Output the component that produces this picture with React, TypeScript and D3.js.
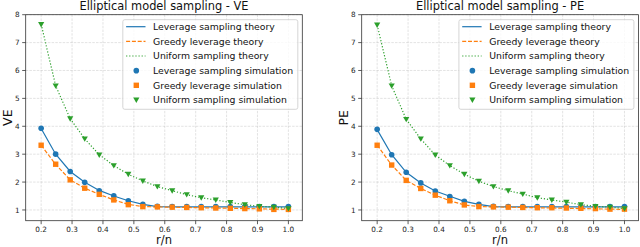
import React from 'react';
import * as d3 from 'd3';

// r/n sample points (18 evenly spaced from 0.2 to 1.0)
const ratios = [0.2, 0.247, 0.294, 0.341, 0.388, 0.435, 0.482, 0.529, 0.576, 0.624, 0.671, 0.718, 0.765, 0.812, 0.859, 0.906, 0.953, 1.0];

// VE panel
const veLevTheory = [3.92, 3.0, 2.38, 1.99, 1.7, 1.5, 1.33, 1.2, 1.12, 1.11, 1.11, 1.11, 1.11, 1.11, 1.11, 1.11, 1.11, 1.11];
const veGreedyTheory = [3.32, 2.63, 2.08, 1.78, 1.56, 1.36, 1.2, 1.12, 1.11, 1.1, 1.09, 1.08, 1.07, 1.06, 1.05, 1.04, 1.03, 1.02];
const veUnifTheory = [7.66, 5.45, 4.27, 3.55, 2.98, 2.59, 2.28, 2.04, 1.84, 1.69, 1.55, 1.44, 1.36, 1.27, 1.19, 1.13, 1.1, 1.05];
const veLevSim = [3.93, 3.0, 2.38, 1.99, 1.69, 1.51, 1.33, 1.2, 1.13, 1.12, 1.12, 1.12, 1.12, 1.12, 1.12, 1.12, 1.12, 1.12];
const veGreedySim = [3.32, 2.64, 2.08, 1.78, 1.56, 1.36, 1.19, 1.12, 1.11, 1.1, 1.09, 1.08, 1.07, 1.06, 1.05, 1.04, 1.02, 1.02];
const veUnifSim = [7.65, 5.45, 4.27, 3.55, 2.97, 2.59, 2.28, 2.04, 1.84, 1.69, 1.55, 1.44, 1.36, 1.27, 1.19, 1.13, 1.1, 1.05];

// PE panel
const peLevTheory = [3.88, 2.98, 2.35, 1.97, 1.68, 1.49, 1.31, 1.2, 1.12, 1.11, 1.11, 1.11, 1.11, 1.11, 1.11, 1.11, 1.11, 1.11];
const peGreedyTheory = [3.32, 2.61, 2.06, 1.77, 1.53, 1.33, 1.18, 1.12, 1.11, 1.1, 1.09, 1.08, 1.07, 1.06, 1.05, 1.04, 1.03, 1.02];
const peUnifTheory = [7.63, 5.45, 4.25, 3.55, 2.97, 2.59, 2.28, 2.03, 1.84, 1.69, 1.57, 1.44, 1.36, 1.28, 1.19, 1.13, 1.1, 1.05];
const peLevSim = [3.89, 2.98, 2.35, 1.97, 1.68, 1.48, 1.31, 1.2, 1.13, 1.12, 1.12, 1.12, 1.12, 1.12, 1.12, 1.12, 1.12, 1.12];
const peGreedySim = [3.32, 2.61, 2.06, 1.77, 1.53, 1.33, 1.18, 1.12, 1.11, 1.1, 1.09, 1.08, 1.08, 1.07, 1.06, 1.05, 1.03, 1.03];
const peUnifSim = [7.63, 5.45, 4.25, 3.55, 2.97, 2.59, 2.28, 2.03, 1.84, 1.69, 1.57, 1.44, 1.36, 1.28, 1.19, 1.13, 1.1, 1.05];

const xTicks = [0.2, 0.3, 0.4, 0.5, 0.6, 0.7, 0.8, 0.9, 1.0];
const yTicks = [1, 2, 3, 4, 5, 6, 7, 8];
const legendLabels = [
  'Leverage sampling theory',
  'Greedy leverage theory',
  'Uniform sampling theory',
  'Leverage sampling simulation',
  'Greedy leverage simulation',
  'Uniform sampling simulation',
];

const BLUE = '#1f77b4';
const ORANGE = '#ff7f0e';
const GREEN = '#2ca02c';
const FONT = 'DejaVu Sans, sans-serif';

const Marker = ({ kind, x, y, color }) => {
  if (kind === 'circle') return <circle cx={x} cy={y} r={2.8} fill={color} />;
  if (kind === 'square') return <rect x={x - 2.7} y={y - 2.7} width={5.4} height={5.4} fill={color} />;
  return <path d={`M${x - 3.1},${y - 2.4}L${x + 3.1},${y - 2.4}L${x},${y + 3}Z`} fill={color} />;
};

const Panel = ({ left, right, title, ylabel, theory, sims }) => {
  const top = 14.7;
  const bottom = 220.7;
  const x = d3.scaleLinear().domain([0.15, 1.045]).range([left, right]);
  const y = d3.scaleLinear().domain([0.615, 8.0]).range([bottom, top]);
  const line = d3.line<number>().x((_, i) => x(ratios[i])).y(d => y(d));

  const styles = [
    { color: BLUE, dash: null, marker: 'circle' },
    { color: ORANGE, dash: '4,1.8', marker: 'square' },
    { color: GREEN, dash: '1.2,1.9', marker: 'triangle' },
  ];

  const lgRight = right - 4.5;
  const lgW = 175;
  const lgLeft = lgRight - lgW;
  const lgTop = 19.7;
  const lgH = 89.6;

  return (
    <g>
      {/* grid */}
      {xTicks.map(t => (
        <line key={'gx' + t} x1={x(t)} x2={x(t)} y1={top} y2={bottom}
          stroke="#b0b0b0" strokeOpacity={0.5} strokeWidth={0.7} strokeDasharray="2.5,1.2" />
      ))}
      {yTicks.map(t => (
        <line key={'gy' + t} x1={left} x2={right} y1={y(t)} y2={y(t)}
          stroke="#b0b0b0" strokeOpacity={0.5} strokeWidth={0.7} strokeDasharray="2.5,1.2" />
      ))}

      {/* theory lines */}
      {theory.map((vals, i) => (
        <path key={'l' + i} d={line(vals)} fill="none" stroke={styles[i].color}
          strokeWidth={1.2} strokeDasharray={styles[i].dash || undefined} />
      ))}

      {/* simulation markers */}
      {sims.map((vals, i) => (
        <g key={'s' + i}>
          {vals.map((v, j) => (
            <Marker key={j} kind={styles[i].marker} x={x(ratios[j])} y={y(v)} color={styles[i].color} />
          ))}
        </g>
      ))}

      {/* frame */}
      <rect x={left} y={top} width={right - left} height={bottom - top} fill="none" stroke="#333" strokeWidth={0.8} />

      {/* ticks */}
      {xTicks.map(t => (
        <g key={'tx' + t}>
          <line x1={x(t)} x2={x(t)} y1={bottom} y2={bottom + 3.5} stroke="#333" strokeWidth={0.8} />
          <text x={x(t)} y={232} textAnchor="middle" fontSize={7.3} fontFamily={FONT} fill="#222">
            {t.toFixed(1)}
          </text>
        </g>
      ))}
      {yTicks.map(t => (
        <g key={'ty' + t}>
          <line x1={left - 3.5} x2={left} y1={y(t)} y2={y(t)} stroke="#333" strokeWidth={0.8} />
          <text x={left - 6} y={y(t)} dy="0.35em" textAnchor="end" fontSize={7.3} fontFamily={FONT} fill="#222">
            {t}
          </text>
        </g>
      ))}

      {/* labels */}
      <text x={(left + right) / 2} y={10} textAnchor="middle" fontSize={11.4} fontFamily={FONT} fill="#111">
        {title}
      </text>
      <text x={(left + right) / 2} y={244.3} textAnchor="middle" fontSize={11.5} fontFamily={FONT} fill="#111">
        r/n
      </text>
      <text transform={`translate(${left - 14},${(top + bottom) / 2}) rotate(-90)`} textAnchor="middle"
        fontSize={12.5} fontFamily={FONT} fill="#111">
        {ylabel}
      </text>

      {/* legend */}
      <rect x={lgLeft} y={lgTop} width={lgW} height={lgH} rx={2} fill="#fff" fillOpacity={0.8}
        stroke="#cccccc" strokeWidth={0.8} />
      {legendLabels.map((lab, i) => {
        const cy = lgTop + 7 + i * 14.65;
        const s = styles[i % 3];
        return (
          <g key={'lg' + i}>
            {i < 3 ? (
              <line x1={lgLeft + 3.3} x2={lgLeft + 22.7} y1={cy} y2={cy} stroke={s.color}
                strokeWidth={1.2} strokeDasharray={s.dash || undefined} />
            ) : (
              <Marker kind={s.marker} x={lgLeft + 13.5} y={cy} color={s.color} />
            )}
            <text x={lgLeft + 30.3} y={cy} dy="0.35em" fontSize={9.3} fontFamily={FONT} fill="#111">
              {lab}
            </text>
          </g>
        );
      })}
    </g>
  );
};

export default function App() {
  return (
    <div style={{ position: 'absolute', left: 0, top: 0 }}>
      <svg width={640} height={247} style={{ display: 'block', background: '#fff' }}>
        <Panel left={25.7} right={302.3} title="Elliptical model sampling - VE" ylabel="VE"
          theory={[veLevTheory, veGreedyTheory, veUnifTheory]}
          sims={[veLevSim, veGreedySim, veUnifSim]} />
        <Panel left={361.7} right={638.4} title="Elliptical model sampling - PE" ylabel="PE"
          theory={[peLevTheory, peGreedyTheory, peUnifTheory]}
          sims={[peLevSim, peGreedySim, peUnifSim]} />
      </svg>
    </div>
  );
}
